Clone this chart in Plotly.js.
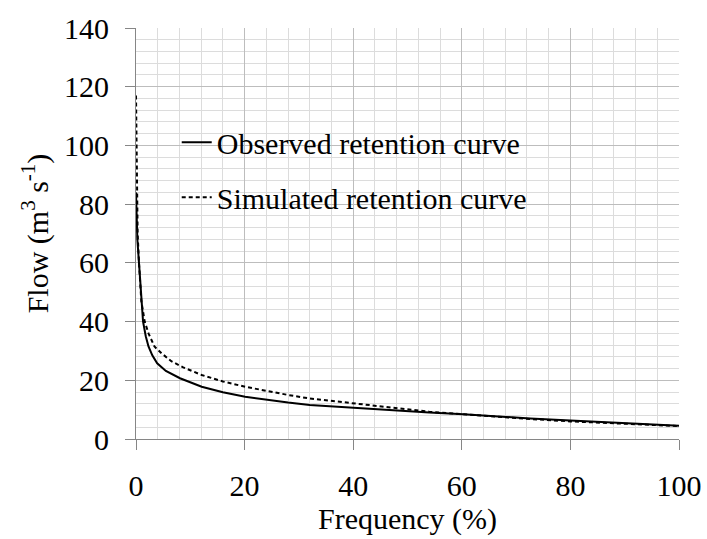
<!DOCTYPE html>
<html>
<head>
<meta charset="utf-8">
<script src="https://cdn.plot.ly/plotly-3.0.1.min.js"></script>
<style>
html,body{margin:0;padding:0;background:#fff;}
#chart{width:707px;height:539px;}
svg text, svg tspan { font-family: "Liberation Serif", "Tinos", "Times New Roman", "DejaVu Serif", serif !important; }
</style>
</head>
<body>
<div id="chart"></div>
<script>
// Observed retention curve
var obsX = [0, 0.1, 0.25, 0.55, 0.98, 1.3, 1.8, 2.3, 3.0, 3.9, 5.5, 8.1, 12.1, 16, 20.1, 24, 28, 32, 37.6, 42, 48, 54, 60.3, 66, 72.6, 80, 86, 91, 96, 100];
var obsY = [84, 75, 68, 60, 47, 40, 35, 31.5, 28.5, 25.8, 23.2, 20.7, 17.8, 15.9, 14.4, 13.3, 12.4, 11.6, 10.9, 10.3, 9.7, 9.0, 8.4, 7.7, 7.0, 6.3, 5.8, 5.3, 4.9, 4.5];
// Simulated retention curve
var simX = [0, 0.05, 0.1, 0.15, 0.3, 0.55, 0.98, 1.6, 2.3, 3.4, 4.7, 6.5, 8.7, 12.1, 16, 20.1, 24, 28, 32, 37.6, 42, 48, 54, 60.3, 66, 72.6, 80, 86, 91, 96, 100];
var simY = [117, 105, 92, 80, 70, 60, 47, 40, 36, 31.5, 29.2, 26.5, 24.4, 21.8, 19.6, 17.8, 16.3, 15.0, 13.8, 12.7, 11.7, 10.4, 9.3, 8.4, 7.6, 6.8, 6.0, 5.5, 5.1, 4.7, 4.4];

var seriesNames = ["Observed retention curve", "Simulated retention curve"];
var xTitle = "Frequency (%)";
var yTitle = "Flow (m<sup>3</sup> s<sup>-1</sup>)";

var FONT = "Liberation Serif";
var FS = 30;

var traces = [
  {x: obsX, y: obsY, type: "scatter", mode: "lines", name: seriesNames[0], legendgroup: "a",
   line: {color: "#000", width: 2}},
  {x: simX, y: simY, type: "scatter", mode: "lines", name: seriesNames[1], legendgroup: "b",
   line: {color: "#000", width: 2, dash: "4px,3px"}}
];

function axisBase() {
  return {
    showline: true, linecolor: "#868686", linewidth: 1,
    ticks: "outside", ticklen: 10, tickcolor: "#868686", tickwidth: 1,
    showgrid: true, gridcolor: "#bdbdbd", gridwidth: 1,
    zeroline: false,
    ticklabelstandoff: 10,
    tickfont: {family: FONT, size: FS, color: "#000"}
  };
}

var layout = {
  width: 707, height: 539,
  margin: {l: 136, r: 28, t: 28, b: 100},
  paper_bgcolor: "#fff", plot_bgcolor: "#fff",
  font: {family: FONT, color: "#000"},
  showlegend: true,
  legend: {x: 0.075, y: 0.785, xanchor: "left", yanchor: "top",
           bgcolor: "rgba(0,0,0,0)", font: {family: FONT, size: FS, color: "#000"},
           traceorder: "grouped", tracegroupgap: 13},
  xaxis: Object.assign(axisBase(), {
    range: [0, 100], dtick: 20, tick0: 0,
    minor: {dtick: 4, showgrid: true, gridcolor: "#dcdcdc", gridwidth: 1, ticks: ""},
    title: {text: xTitle, font: {family: FONT, size: FS, color: "#000"}, standoff: 2}
  }),
  yaxis: Object.assign(axisBase(), {
    range: [0, 140], dtick: 20, tick0: 0,
    minor: {dtick: 4, showgrid: true, gridcolor: "#dcdcdc", gridwidth: 1, ticks: ""},
    title: {text: yTitle, font: {family: FONT, size: FS, color: "#000"}, standoff: 6}
  })
};

Plotly.newPlot("chart", traces, layout, {displayModeBar: false, staticPlot: true});
</script>
</body>
</html>
